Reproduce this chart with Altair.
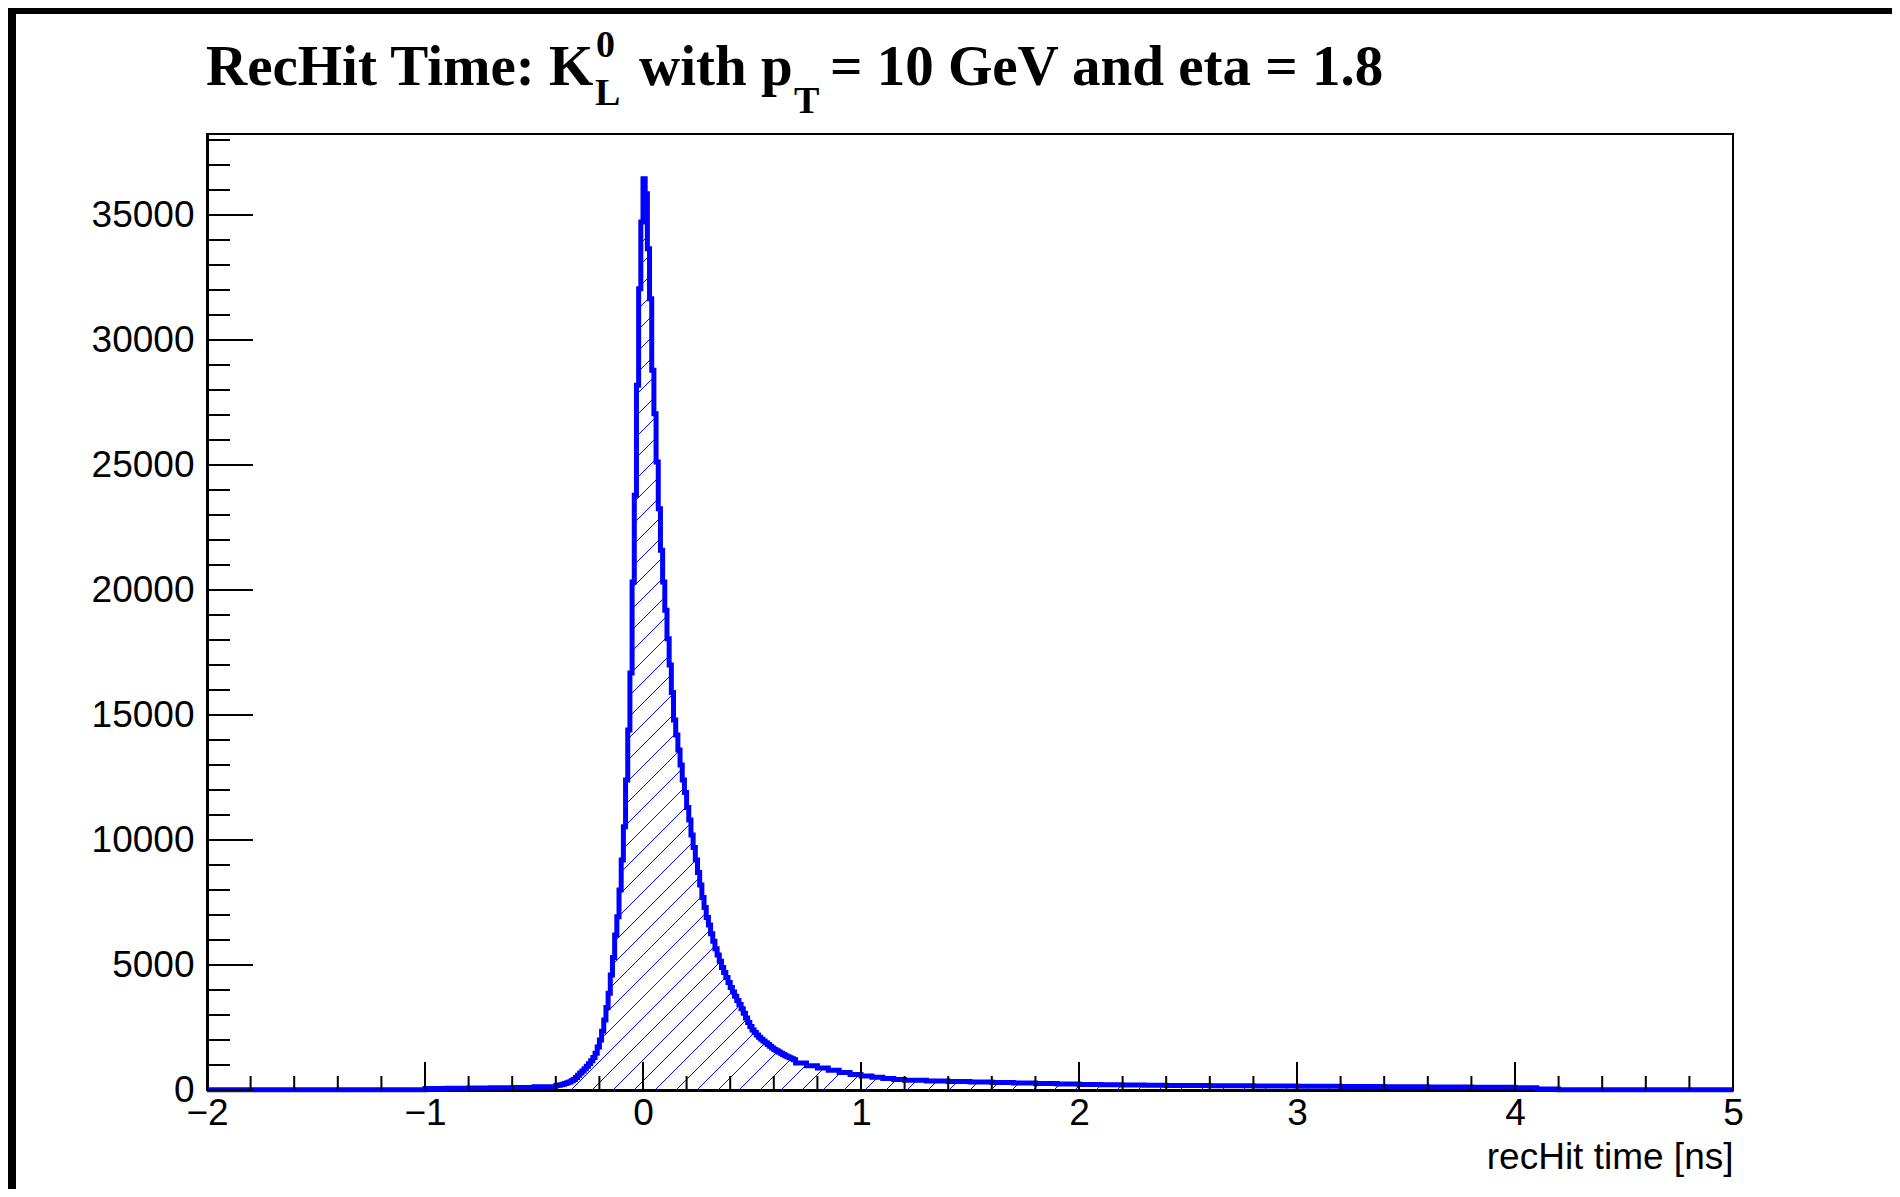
import altair as alt
import numpy as np
import pandas as pd

# ---------------- data ----------------
# 0.1 ns bins from -2.0 to -0.4
left_tail_counts = [10, 10, 10, 10, 10, 10, 10, 10, 10, 10, 60, 70, 80, 90, 100, 130]
# 0.01 ns bins from -0.40 to 0.70
fine_counts = [
    180, 195, 210, 230, 260, 290, 320, 370, 420, 500,
    590, 680, 760, 850, 950, 1050, 1170, 1300, 1470, 1720,
    2000, 2350, 2800, 3300, 3870, 4600, 5300, 6200, 6930, 8000,
    9200, 10530, 12400, 14400, 16680, 20320, 23790, 28190, 32050, 34720,
    36450, 35850, 33650, 31650, 28790, 27050, 25120, 23250, 21590, 20320,
    19190, 18050, 17000, 15900, 14800, 14200, 13600, 13000, 12400, 11900,
    11300, 10800, 10200, 9700, 9200, 8700, 8200, 7700, 7300, 6900,
    6600, 6250, 5950, 5650, 5400, 5150, 4900, 4700, 4500, 4300,
    4100, 3920, 3750, 3580, 3420, 3250, 3070, 2880, 2700, 2540,
    2400, 2300, 2200, 2110, 2030, 1960, 1890, 1820, 1750, 1680,
    1620, 1570, 1520, 1470, 1420, 1370, 1330, 1290, 1250, 1210,
]
# 0.05 ns bins from 0.70 to 1.20
mid_counts = [1080, 970, 880, 790, 700, 620, 560, 510, 460, 420]
# 0.1 ns bins from 1.2 to 5.0
tail_counts = [
    390, 360, 340, 320, 300, 280, 260, 240,
    225, 210, 200, 190, 185, 180, 175, 170, 165, 160,
    155, 150, 145, 140, 135, 130, 125, 120, 115, 110,
    95, 40, 10, 10, 10, 10, 10, 10, 10, 10,
]
segments = [(-2.0, 0.1, left_tail_counts), (-0.4, 0.01, fine_counts),
            (0.7, 0.05, mid_counts), (1.2, 0.1, tail_counts)]

x_major_ticks = [-2, -1, 0, 1, 2, 3, 4, 5]
y_major_ticks = [0, 5000, 10000, 15000, 20000, 25000, 30000, 35000]
x_minor_ticks = [round(-2 + 0.2 * i, 2) for i in range(36) if i % 5 != 0]
y_minor_ticks = [1000 * i for i in range(39) if i % 5 != 0]

title_main = "RecHit Time: K"
title_sup = "0"
title_sub_L = "L"
title_mid = "with p"
title_sub_T = "T"
title_end = "= 10 GeV and eta = 1.8"
x_title = "recHit time [ns]"

# ---------------- layout ----------------
W, H = 1526, 956
XMIN, XMAX, YMAX = -2.0, 5.0, 38240
BLUE = "#0000ff"
SANS = "Liberation Sans"
SERIF = "Liberation Serif"

bin_lo, bin_hi, counts = [], [], []
for start, width, cl in segments:
    for i, c in enumerate(cl):
        bin_lo.append(round(start + i * width, 4))
        bin_hi.append(round(start + (i + 1) * width, 4))
        counts.append(c)

step_rows = []
for lo, hi, c in zip(bin_lo, bin_hi, counts):
    step_rows.append({"x": lo, "y": c, "i": len(step_rows)})
    step_rows.append({"x": hi, "y": c, "i": len(step_rows)})
step_df = pd.DataFrame(step_rows)

# hatch (45 degree lines, clipped to the area under the histogram)
lo_arr = np.array(bin_lo)
cnt_arr = np.array(counts, dtype=float)


def hist_at(x):
    idx = np.clip(np.searchsorted(lo_arr, x, side="right") - 1, 0, len(cnt_arr) - 1)
    return cnt_arr[idx]


px_per_x = W / (XMAX - XMIN)
slope = px_per_x * (YMAX / H)
spacing = 21 / px_per_x
phase = 0.055
hatch = []
k_lo = int(np.floor((XMIN - YMAX / slope - phase) / spacing)) - 1
k_hi = int(np.ceil((XMAX - phase) / spacing)) + 1
for k in range(k_lo, k_hi):
    c = phase + k * spacing
    s0 = max(c, XMIN)
    if s0 >= XMAX:
        continue
    xs = np.arange(s0, XMAX, 0.0004)
    v = slope * (xs - c)
    inside = v <= hist_at(xs)
    if not inside.any():
        continue
    d = np.diff(inside.astype(int))
    starts = list(np.where(d == 1)[0] + 1)
    ends = list(np.where(d == -1)[0])
    if inside[0]:
        starts = [0] + starts
    if inside[-1]:
        ends = ends + [len(xs) - 1]
    for s, e in zip(starts, ends):
        if e > s:
            hatch.append({"x0": xs[s], "y0": v[s], "x1": xs[e], "y1": v[e]})
hatch_df = pd.DataFrame(hatch)

xscale = alt.Scale(domain=[XMIN, XMAX], nice=False, zero=False)
yscale = alt.Scale(domain=[0, YMAX], nice=False, zero=False)

xaxis = alt.Axis(values=x_major_ticks, format="d", labelFlush=False, labelPadding=5,
                 titleAnchor="end", titleAlign="right", titleBaseline="alphabetic",
                 titleX=W, titleY=78)
yaxis = alt.Axis(values=y_major_ticks, format="d", labelPadding=13, title=None)

hatch_layer = alt.Chart(hatch_df).mark_rule(color=BLUE, strokeWidth=1).encode(
    x=alt.X("x0:Q", scale=xscale, title=x_title, axis=xaxis),
    x2="x1:Q",
    y=alt.Y("y0:Q", scale=yscale, axis=yaxis),
    y2="y1:Q",
)

line_layer = alt.Chart(step_df).mark_line(
    color=BLUE, strokeWidth=5, strokeJoin="miter", strokeCap="butt"
).encode(
    x=alt.X("x:Q", scale=xscale, title=x_title, axis=xaxis),
    y=alt.Y("y:Q", scale=yscale, axis=yaxis),
    order="i:Q",
)

xmaj_df = pd.DataFrame({"t": x_major_ticks})
xmin_df = pd.DataFrame({"t": x_minor_ticks})
ymaj_df = pd.DataFrame({"t": y_major_ticks})
ymin_df = pd.DataFrame({"t": y_minor_ticks})

tick_kw = dict(color="black", strokeWidth=2)
xmaj_layer = alt.Chart(xmaj_df).mark_rule(**tick_kw).encode(
    x=alt.X("t:Q", scale=xscale, title=x_title, axis=xaxis), y=alt.value(H), y2=alt.value(H - 28))
xmin_layer = alt.Chart(xmin_df).mark_rule(**tick_kw).encode(
    x=alt.X("t:Q", scale=xscale, title=x_title, axis=xaxis), y=alt.value(H), y2=alt.value(H - 14))
ymaj_layer = alt.Chart(ymaj_df).mark_rule(**tick_kw).encode(
    y=alt.Y("t:Q", scale=yscale, axis=yaxis), x=alt.value(0), x2=alt.value(46))
ymin_layer = alt.Chart(ymin_df).mark_rule(**tick_kw).encode(
    y=alt.Y("t:Q", scale=yscale, axis=yaxis), x=alt.value(0), x2=alt.value(23))

one = pd.DataFrame({"a": [0]})


def txt(s, x, y, size, font=SERIF, weight="bold"):
    return alt.Chart(one).mark_text(
        text=s, font=font, fontSize=size, fontWeight=weight, color="black",
        align="left", baseline="alphabetic"
    ).encode(x=alt.value(x), y=alt.value(y))


title_layers = [
    txt(title_main, -1, -49, 57),
    txt(title_sup, 389, -77, 38),
    txt(title_sub_L, 388, -29, 38),
    txt(title_mid, 432, -49, 57),
    txt(title_sub_T, 587, -21, 38),
    txt(title_end, 623, -49, 57),
]

band_top = alt.Chart(one).mark_rect(color="black").encode(
    x=alt.value(-199), x2=alt.value(1700), y=alt.value(-126), y2=alt.value(-120))
band_left = alt.Chart(one).mark_rect(color="black").encode(
    x=alt.value(-199), x2=alt.value(-191), y=alt.value(-126), y2=alt.value(1070))

chart = alt.layer(
    hatch_layer, line_layer, xmaj_layer, xmin_layer, ymaj_layer, ymin_layer,
    *title_layers, band_top, band_left
).properties(
    width=W, height=H,
    autosize=alt.AutoSizeParams(type="none"),
    padding={"left": 199, "top": 126, "right": 159, "bottom": 99},
    background="white",
).configure_view(
    stroke="black", strokeWidth=2
).configure_axis(
    grid=False, ticks=False, domainColor="black", domainWidth=3,
    labelFont=SANS, labelFontSize=37, labelColor="black",
    titleFont=SANS, titleFontSize=37, titleFontWeight="normal", titleColor="black",
    labelOverlap=False, labelBound=False,
)

chart.save("out.html", embed_options={"renderer": "svg", "actions": False})
